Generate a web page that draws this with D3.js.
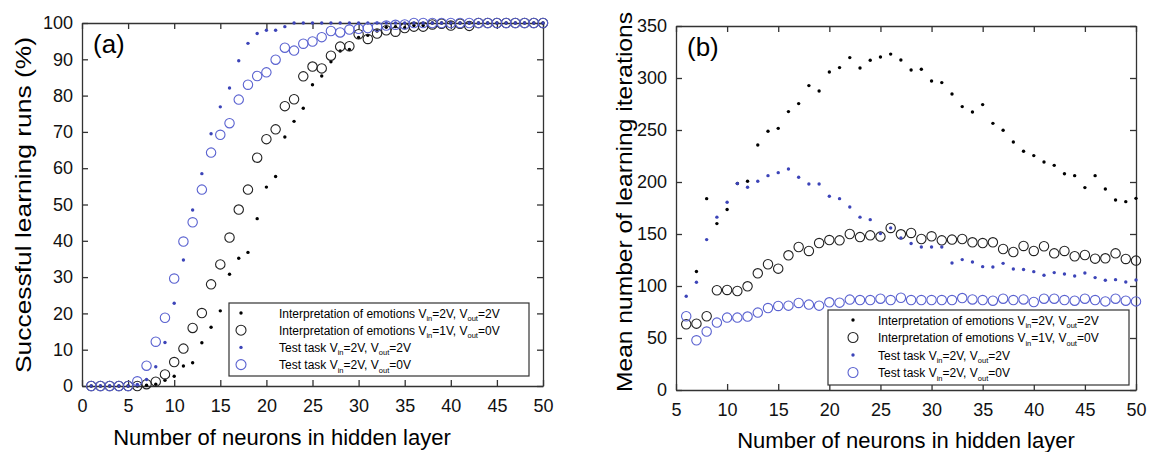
<!DOCTYPE html>
<html>
<head>
<meta charset="utf-8">
<script src="https://cdn.jsdelivr.net/npm/d3@7"></script>
<style>
  body { margin: 0; background: #fff; }
  svg { font-family: "Liberation Sans", Arial, sans-serif; }
  .axis path, .axis line { stroke: #333; stroke-width: 1.3; }
  .axis text { font-size: 18px; fill: #111; }
</style>
</head>
<body>
<div id="chart"></div>
<script>
var chartWidth = 1163;
var chartHeight = 452;

// ---- data: panel (a), neurons 1..50 ----
var neuronsA = d3.range(1, 51);
var emoRunsV2V2 = [0, 0, 0, 0, 0, 0, 0.2, 0.5, 1.6, 2.7, 5.5, 6.4, 11.9, 16.2, 20.7, 30.8, 35.2, 36.8, 46.1, 54.8,
  57.7, 68.6, 72.9, 76.5, 83, 85.4, 89.3, 92.3, 92.7, 96, 96.6, 97.8, 98.8, 99, 98.7, 99.3, 99.3, 100, 100, 100,
  100, 100, 100, 100, 100, 100, 100, 100, 100, 100];
var emoRunsV1V0 = [0, 0, 0, 0, 0, 0, 0.5, 1.2, 3.2, 6.6, 10.3, 16, 20.1, 28, 33.5, 40.9, 48.6, 54.1, 62.9, 68,
  70.7, 77.1, 79, 85.3, 88, 87.5, 91, 93.5, 93.6, 96.9, 95.6, 97.1, 98, 97.6, 98.6, 99, 99, 99.6, 99.8, 99.3,
  99.8, 99.2, 100, 100, 100, 100, 100, 100, 100, 100];
var testRunsV2V2 = [0, 0, 0, 0, 0, 0.4, 1.8, 5.3, 12, 22.8, 34.7, 48.5, 58.5, 69.5, 76.9, 82.1, 89.6, 94.4, 97.1, 98,
  98, 99, 100, 100, 100, 100, 100, 100, 100, 100, 100, 100, 100, 100, 100, 100, 100, 100, 100, 100,
  100, 100, 100, 100, 100, 100, 100, 100, 100, 100];
var testRunsV2V0 = [0, 0, 0, 0, 0, 1.3, 5.6, 12.2, 18.8, 29.6, 39.8, 45.1, 54.1, 64.3, 69.2, 72.4, 78.9, 83, 85.4, 86.4,
  89.9, 93.2, 92.4, 94.3, 94.9, 96.1, 97.8, 97.4, 98.2, 98.4, 98.6, 99, 99.3, 99.5, 99.6, 100, 100, 100, 100, 100,
  100, 100, 100, 100, 100, 100, 100, 100, 100, 100];

// ---- data: panel (b), neurons 6..50 ----
var neuronsB = d3.range(6, 51);
var emoItersV2V2 = [null, 114, 184, 160, 173.5, 198.5, 200.7, 235.6, 248.8, 251.6, 267.7, 275.4, 292.7, 287.5, 305.8,
  310, 319.6, 309.6, 317, 320.2, 323, 317.3, 307.7, 308.4, 297.1, 295.6, 284.6, 272.5, 267.3, 274.4,
  256.4, 249.7, 238.5, 229.5, 225.4, 219.2, 216, 208, 206.1, 194.6, 206.1, 193.3, 182.7, 181.1, 184.3];
var emoItersV1V0 = [63.2, 63.8, 70.9, 95.9, 96.2, 95.2, 99.7, 112.2, 120.9, 116.7, 129.5, 137.5, 133.7, 141.3, 144.2,
  143.9, 150, 147, 148.7, 147.5, 155.8, 149.7, 151, 145.2, 147.8, 143.9, 144.6, 145.2, 142, 141.3,
  142, 135.6, 132.7, 138.5, 133.7, 138.2, 131.4, 133.7, 128.6, 129.8, 126.3, 126.6, 131.4, 126, 124.4];
var testItersV2V2 = [90.1, 103.6, 144.6, 166.2, 180.6, 198.5, 194.9, 200.7, 206.1, 209, 212.5, 204.5, 198.1, 198.1, 186.3,
  184, 176, 166.2, 163.8, 150.4, 155.8, 146.2, 140.8, 137.5, 137.5, 137.5, 122.1, 125.4, 123.1, 118.6,
  118.3, 121.8, 116.3, 115.8, 113.8, 110.3, 112.9, 111.5, 109.6, 112.5, 108.1, 105.5, 106.1, 103.8, 105.8];
var testItersV2V0 = [70.9, 47.8, 56.2, 64.8, 69.6, 69.6, 70.6, 74.4, 78.8, 80.8, 81.1, 83.7, 82.1, 81.1, 84.3,
  84, 86.9, 86.5, 86.5, 87.8, 86.5, 88.7, 86.5, 86.5, 86.5, 86.5, 86.5, 88.4, 87.1, 86.5,
  85.9, 87.8, 86.5, 87.1, 84.6, 87.8, 87.8, 86.5, 85.9, 87.8, 86.5, 85.2, 87.8, 85.9, 85.2];

// tick values
var ticksXA = d3.range(0, 51, 5);
var ticksYA = d3.range(0, 101, 10);
var ticksXB = d3.range(5, 51, 5);
var ticksYB = d3.range(0, 351, 50);

// series look + legend text (Vin / Vout pairs)
var seriesStyle = [
  { kind: "dot", color: "#000", label: ["Interpretation of emotions V", "in", "=2V, V", "out", "=2V"] },
  { kind: "ring", color: "#222", label: ["Interpretation of emotions V", "in", "=1V, V", "out", "=0V"] },
  { kind: "dot", color: "#3c44b8", label: ["Test task V", "in", "=2V, V", "out", "=2V"] },
  { kind: "ring", color: "#5a62d0", label: ["Test task V", "in", "=2V, V", "out", "=0V"] }
];

var svg = d3.select("#chart").append("svg")
  .attr("width", chartWidth)
  .attr("height", chartHeight);

function drawPanel(p) {
  var x = d3.scaleLinear().domain(p.xDomain).range([p.left, p.right]);
  var y = d3.scaleLinear().domain(p.yDomain).range([p.bottom, p.top]);
  var g = svg.append("g");

  // axes, ticks pointing inward
  g.append("g").attr("class", "axis")
    .attr("transform", "translate(0," + p.bottom + ")")
    .call(d3.axisBottom(x).tickValues(p.xTicks).tickSize(-6).tickSizeOuter(0).tickPadding(13));
  g.append("g").attr("class", "axis")
    .attr("transform", "translate(0," + p.top + ")")
    .call(d3.axisTop(x).tickValues(p.xTicks).tickSize(-6).tickSizeOuter(0).tickFormat(""));
  g.append("g").attr("class", "axis")
    .attr("transform", "translate(" + p.left + ",0)")
    .call(d3.axisLeft(y).tickValues(p.yTicks).tickSize(-6).tickSizeOuter(0).tickPadding(9));
  g.append("g").attr("class", "axis")
    .attr("transform", "translate(" + p.right + ",0)")
    .call(d3.axisRight(y).tickValues(p.yTicks).tickSize(-6).tickSizeOuter(0).tickFormat(""));

  // points
  p.series.forEach(function (vals, i) {
    var st = seriesStyle[i];
    var pts = p.xs.map(function (n, j) { return { n: n, v: vals[j] }; })
      .filter(function (d) { return d.v != null; });
    g.append("g").selectAll("circle")
      .data(pts)
      .enter()
      .append("circle")
      .attr("cx", function (d) { return x(d.n); })
      .attr("cy", function (d) { return y(d.v); })
      .attr("r", st.kind == "dot" ? 1.7 : 4.7)
      .style("fill", st.kind == "dot" ? st.color : "none")
      .style("stroke", st.kind == "dot" ? "none" : st.color)
      .style("stroke-width", 1.1);
  });

  // panel tag
  g.append("text")
    .attr("x", p.left + 11)
    .attr("y", p.top + 30)
    .style("font-size", "26px")
    .text(p.tag);

  // axis titles
  g.append("text")
    .attr("x", p.xTitleMid)
    .attr("y", p.xTitleY)
    .attr("text-anchor", "middle")
    .style("font-size", "22px")
    .text("Number of neurons in hidden layer");
  // the y titles are stretched along their length in the original
  g.append("text")
    .attr("transform", "translate(" + p.yTitleX + "," + (p.yTitleMid + p.yTitleLen / 2) + ") rotate(-90)")
    .attr("textLength", p.yTitleLen)
    .attr("lengthAdjust", "spacingAndGlyphs")
    .style("font-size", "21.5px")
    .text(p.yTitle);

  // legend
  var lg = g.append("g").attr("transform", "translate(" + p.legend[0] + "," + p.legend[1] + ")");
  lg.append("rect")
    .attr("width", p.legend[2])
    .attr("height", p.legend[3])
    .style("fill", "#fff")
    .style("stroke", "#333")
    .style("stroke-width", 1.2);
  seriesStyle.forEach(function (st, i) {
    var ry = 10 + i * p.legendStep;
    lg.append("circle")
      .attr("cx", p.markerX)
      .attr("cy", ry)
      .attr("r", st.kind == "dot" ? 1.7 : 5)
      .style("fill", st.kind == "dot" ? st.color : "none")
      .style("stroke", st.kind == "dot" ? "none" : st.color)
      .style("stroke-width", 1.1);
    var t = lg.append("text")
      .attr("x", 50)
      .attr("y", ry + 4.5)
      .style("font-size", "12px");
    st.label.forEach(function (s, k) {
      var sub = k % 2 == 1;
      t.append("tspan")
        .attr("dy", sub ? 3.5 : (k > 0 ? -3.5 : 0))
        .style("font-size", sub ? "7.5px" : "12px")
        .text(s);
    });
  });
}

drawPanel({
  tag: "(a)", xs: neuronsA,
  series: [emoRunsV2V2, emoRunsV1V0, testRunsV2V2, testRunsV2V0],
  xDomain: [0, 50], yDomain: [0, 100], xTicks: ticksXA, yTicks: ticksYA,
  left: 82, right: 543, top: 23, bottom: 386,
  xTitleMid: 282, xTitleY: 445,
  yTitleX: 31, yTitleMid: 205, yTitleLen: 336,
  yTitle: "Successful learning runs (%)",
  legend: [229, 303, 300, 73], legendStep: 17.2, markerX: 12
});

drawPanel({
  tag: "(b)", xs: neuronsB,
  series: [emoItersV2V2, emoItersV1V0, testItersV2V2, testItersV2V0],
  xDomain: [5, 50], yDomain: [0, 350], xTicks: ticksXB, yTicks: ticksYB,
  left: 676, right: 1136, top: 26, bottom: 390,
  xTitleMid: 906, xTitleY: 448,
  yTitleX: 632, yTitleMid: 202, yTitleLen: 380,
  yTitle: "Mean number of learning iterations",
  legend: [828, 310, 301, 75], legendStep: 17.5, markerX: 25
});
</script>
</body>
</html>
